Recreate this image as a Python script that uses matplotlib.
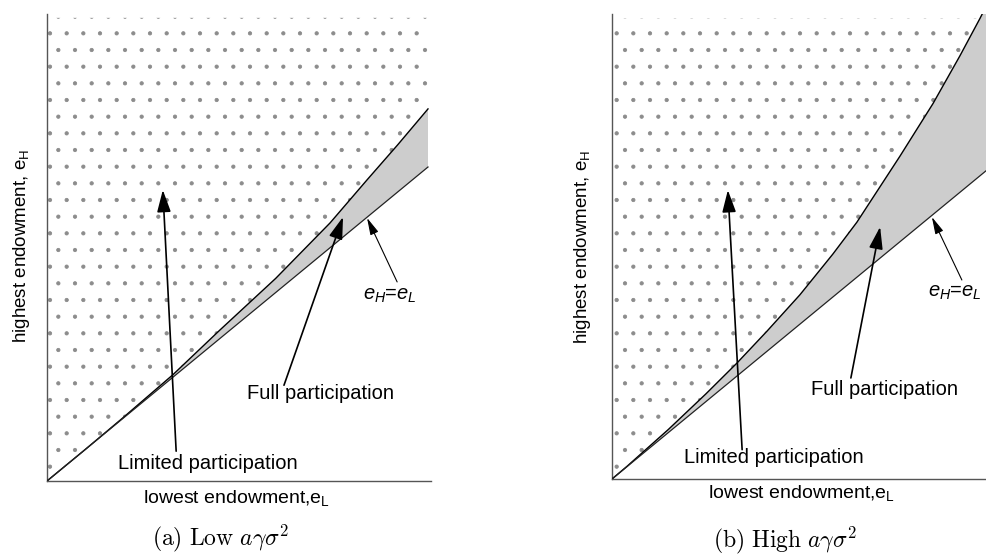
import numpy as np
import matplotlib
matplotlib.use('Agg')
import matplotlib.pyplot as plt

plt.rcParams['font.family'] = ['Liberation Sans', 'DejaVu Sans']
plt.rcParams['mathtext.fontset'] = 'custom'
plt.rcParams['mathtext.rm'] = 'Liberation Sans'
plt.rcParams['mathtext.it'] = 'Liberation Sans:italic'
plt.rcParams['hatch.linewidth'] = 0.6

# boundary between limited and full participation
# panel (a): low a*gamma*sigma^2
el_low = [0.0, 0.1, 0.2, 0.33, 0.454, 0.6, 0.743, 0.84, 0.92, 1.0]
eh_low = [0.0, 0.1, 0.202, 0.338, 0.481, 0.645, 0.822, 0.959, 1.07, 1.185]
# panel (b): high a*gamma*sigma^2
el_high = [0.0, 0.04, 0.15, 0.25, 0.333, 0.413, 0.501, 0.589, 0.653, 0.768, 0.856, 0.928, 0.981, 1.0]
eh_high = [0.0, 0.041, 0.16, 0.275, 0.375, 0.478, 0.596, 0.728, 0.831, 1.045, 1.215, 1.37, 1.49, 1.535]

captions = [r'$\mathrm{(a)\ Low}\ a\gamma\sigma^2$', r'$\mathrm{(b)\ High}\ a\gamma\sigma^2$']
ylab = 'highest endowment, e$_\\mathrm{H}$'
xlab = 'lowest endowment,e$_\\mathrm{L}$'

W, H = 987, 556
fig = plt.figure(figsize=(W / 100, H / 100), dpi=100)


def fx(px):
    return px / W


def fy(py):
    return 1 - py / H


def draw_panel(ax, el, eh, top, ann):
    el = np.array(el)
    eh = np.array(eh)
    # stippled region: limited participation
    ax.fill_between(el, eh, np.maximum(eh, top), facecolor='white',
                    edgecolor='#8c8c8c', hatch='.', linewidth=0, zorder=1)
    # grey wedge: full participation
    ax.fill_between(el, el, eh, facecolor='#cdcdcd', linewidth=0, zorder=2)
    ax.plot(el, eh, color='black', lw=1.0, zorder=3)
    ax.plot(el, el, color='#222222', lw=0.9, zorder=3)

    for spine in ['top', 'right']:
        ax.spines[spine].set_visible(False)
    for spine in ['left', 'bottom']:
        ax.spines[spine].set_color('#555555')
        ax.spines[spine].set_linewidth(1.0)
    ax.set_xticks([])
    ax.set_yticks([])

    big = dict(arrowstyle='-|>,head_length=0.9,head_width=0.28', color='black',
               lw=1.2, shrinkA=0, shrinkB=0, mutation_scale=15)
    thin = dict(arrowstyle='-|>,head_length=0.8,head_width=0.2', color='black',
                lw=0.8, shrinkA=0, shrinkB=0, mutation_scale=13)
    for (txt, tpos, tail, tip, style) in [
        ('Limited participation', ann[0], ann[1], ann[2], big),
        ('Full participation', ann[3], ann[4], ann[5], big),
        (r'$e_H$=$e_L$', ann[6], ann[7], ann[8], thin),
    ]:
        ax.annotate('', xy=tip, xytext=tail, arrowprops=style, zorder=4)
        ax.text(tpos[0], tpos[1], txt, ha='center', va='center', fontsize=14.5,
                zorder=5, clip_on=False)


# panel (a)
ax1 = fig.add_axes([fx(47), fy(481), (431 - 47) / W, (481 - 14) / H])
ax1.set_xlim(0, 384 / 381)
ax1.set_ylim(0, 467 / 314)
draw_panel(ax1, el_low, eh_low, 1.475,
           [(0.423, 0.057), (0.339, 0.095), (0.304, 0.927),
            (0.717, 0.280), (0.622, 0.305), (0.777, 0.841),
            (0.900, 0.592), (0.919, 0.634), (0.840, 0.838)])

# panel (b)
ax2 = fig.add_axes([fx(612), fy(479), (987 - 612) / W, (479 - 14) / H])
ax2.set_xlim(0, 1.0)
ax2.set_ylim(0, 465 / 309)
draw_panel(ax2, el_high, eh_high, 1.49,
           [(0.432, 0.068), (0.347, 0.095), (0.309, 0.935),
            (0.728, 0.291), (0.637, 0.327), (0.715, 0.816),
            (0.915, 0.602), (0.933, 0.644), (0.853, 0.848)])

# axis labels and captions
for (xl, yl, xc, yc, cx, cy, cap) in [(22, 246, 237, 498, 220, 538, captions[0]),
                                      (583, 247, 802, 493, 785, 540, captions[1])]:
    fig.text(fx(xl), fy(yl), ylab, rotation=90, ha='center', va='center', fontsize=13.5)
    fig.text(fx(xc), fy(yc), xlab, ha='center', va='center', fontsize=14)
    fig.text(fx(cx), fy(cy), cap, ha='center', va='center', fontsize=17,
             math_fontfamily='cm')

fig.savefig('out.png', dpi=100)
